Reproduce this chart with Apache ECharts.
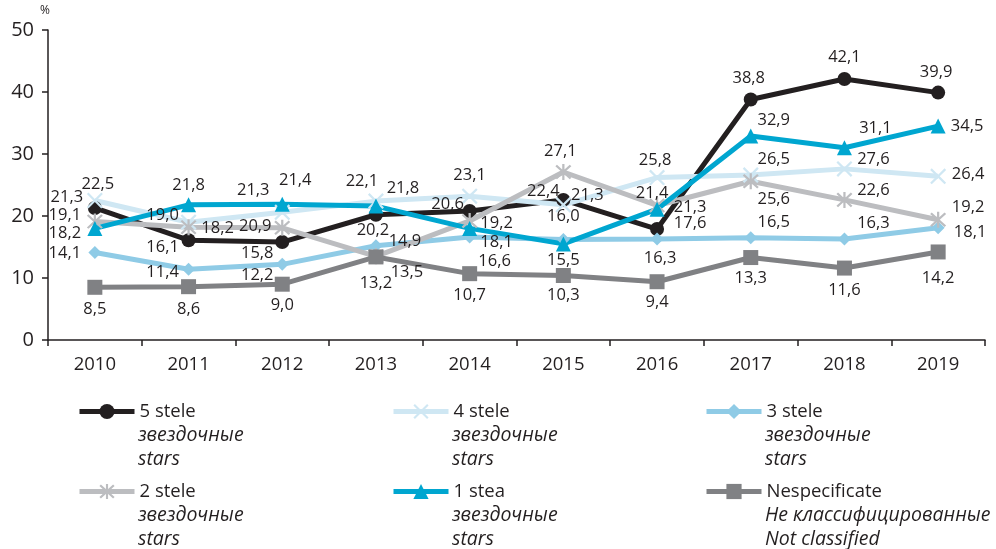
<!DOCTYPE html>
<html lang="ro">
<head>
    <meta charset="UTF-8">
    <title>Stele</title>
    <script src="https://cdn.jsdelivr.net/npm/echarts@6/dist/echarts.min.js"></script>
    <style>
        html, body { margin: 0; padding: 0; background: #fff; }
        #main { width: 996px; height: 549px; }
    </style>
</head>
<body>
<div id="main"></div>
<script>
    // categories
    var years = ['2010', '2011', '2012', '2013', '2014', '2015', '2016', '2017', '2018', '2019'];

    // values as drawn
    var stele5 = [21.3, 16.1, 15.8, 20.2, 20.8, 22.6, 17.9, 38.8, 42.1, 39.9];
    var stele4 = [22.5, 19.0, 20.6, 22.4, 23.2, 21.8, 26.2, 26.6, 27.6, 26.4];
    var stele3 = [14.1, 11.4, 12.2, 15.2, 16.6, 16.2, 16.3, 16.5, 16.3, 18.1];
    var stele2 = [19.1, 18.2, 18.1, 13.5, 19.2, 27.1, 21.7, 25.6, 22.6, 19.4];
    var stea1 = [18.0, 21.8, 21.9, 21.6, 18.0, 15.5, 21.1, 32.9, 31.0, 34.5];
    var nespec = [8.5, 8.6, 9.0, 13.4, 10.7, 10.4, 9.4, 13.3, 11.6, 14.2];

    // printed value labels
    var txt5 = ['21,3', '16,1', '15,8', '20,2', '20,6', '22,4', '17,6', '38,8', '42,1', '39,9'];
    var txt4 = ['22,5', '19,0', '21,3', '22,1', '23,1', '21,3', '25,8', '26,5', '27,6', '26,4'];
    var txt3 = ['14,1', '11,4', '12,2', '14,9', '16,6', '16,0', '16,3', '16,5', '16,3', '18,1'];
    var txt2 = ['19,1', '18,2', '20,9', '13,5', '19,2', '27,1', '21,4', '25,6', '22,6', '19,2'];
    var txt1 = ['18,2', '21,8', '21,4', '21,8', '18,1', '15,5', '21,3', '32,9', '31,1', '34,5'];
    var txtN = ['8,5', '8,6', '9,0', '13,2', '10,7', '10,3', '9,4', '13,3', '11,6', '14,2'];

    // where each label sits, relative to its point
    var off5 = [[-28,-11],[-26,7],[-25,11],[-3,16],[-22,-7],[-20,-9],[33,-6],[-2,-21],[0,-22],[-2,-20]];
    var off4 = [[3,-16],[-26,-7],[-29,-22],[-14,-20],[0,-21],[24,-10],[-2,-17],[23,-16],[29,-10],[30,-2]];
    var off3 = [[-30,1],[-26,3],[-25,11],[29,-4],[25,24],[0,-23],[3,19],[23,-15],[29,-16],[32,5]];
    var off2 = [[-30,-6],[29,1],[-27,-1],[31,16],[27,2],[-3,-21],[-5,-12],[23,18],[29,-10],[30,-12]];
    var off1 = [[-30,5],[0,-20],[13,-24],[27,-18],[27,14],[0,16],[33,-2],[23,-16],[31,-20],[29,0]];
    var offN = [[0,22],[0,23],[0,21],[0,26],[0,22],[0,20],[0,21],[0,21],[0,22],[0,26]];

    var ink = '#231f20';
    var font = '"Open Sans", "Noto Sans", sans-serif';

    var xMark = 'path://M1,0L5,4L9,0L10,1L6,5L10,9L9,10L5,6L1,10L0,9L4,5L0,1Z';
    var starMark = 'path://M1,0L5,4L9,0L10,1L6,5L10,9L9,10L5,6L1,10L0,9L4,5L0,1Z M4.3,-0.5L5.7,-0.5L5.7,10.5L4.3,10.5Z';

    function mkSeries(name, vals, txt, off, color, symbol, size) {
        return {
            name: name,
            type: 'line',
            symbol: symbol,
            symbolSize: size,
            lineStyle: { color: color, width: 5 },
            itemStyle: { color: color },
            data: vals.map(function (v, i) {
                return {
                    value: v,
                    label: { offset: off[i] }
                };
            }),
            label: {
                show: true,
                position: 'inside',
                color: ink,
                fontFamily: font,
                fontSize: 16.5,
                textBorderWidth: 0,
                formatter: function (p) { return txt[p.dataIndex]; }
            },
            z: 2
        };
    }

    var series = [
        mkSeries('5 stele', stele5, txt5, off5, '#231f20', 'circle', 14),
        mkSeries('4 stele', stele4, txt4, off4, '#cfe7f3', xMark, 16),
        mkSeries('3 stele', stele3, txt3, off3, '#8fcbe6', 'diamond', 13),
        mkSeries('2 stele', stele2, txt2, off2, '#bcbdc0', starMark, 16),
        mkSeries('1 stea', stea1, txt1, off1, '#00a6d0', 'triangle', 15),
        mkSeries('Nespecificate', nespec, txtN, offN, '#808184', 'rect', 15)
    ];

    // legend blocks: icon x, row center y
    var legendPos = [
        ['5 stele', 77, 411], ['4 stele', 391, 411], ['3 stele', 704, 411],
        ['2 stele', 77, 491], ['1 stea', 391, 491], ['Nespecificate', 704, 491]
    ];
    var subLines = {
        '5 stele': ['звездочные', 'stars'],
        '4 stele': ['звездочные', 'stars'],
        '3 stele': ['звездочные', 'stars'],
        '2 stele': ['звездочные', 'stars'],
        '1 stea': ['звездочные', 'stars'],
        'Nespecificate': ['Не классифицированные', 'Not classified']
    };

    var legends = legendPos.map(function (l) {
        return {
            data: [l[0]],
            left: l[1],
            top: l[2] - 9,
            padding: 0,
            itemWidth: 55,
            itemHeight: 19,
            selectedMode: false,
            lineStyle: { width: 5 },
            textStyle: { color: ink, fontFamily: font, fontSize: 18.5 }
        };
    });

    var graphics = [{
        type: 'text',
        left: 40,
        top: 5,
        style: { text: '%', fill: ink, font: '12px ' + font }
    }];
    legendPos.forEach(function (l) {
        subLines[l[0]].forEach(function (s, k) {
            graphics.push({
                type: 'text',
                x: l[1] + 61,
                y: l[2] + 1 + 23.5 * (k + 1),
                style: {
                    text: s,
                    fill: ink,
                    font: 'italic 19.5px ' + font,
                    verticalAlign: 'middle'
                }
            });
        });
    });

    var myChart = echarts.init(document.getElementById('main'));
    var option = {
        animation: false,
        backgroundColor: '#fff',
        grid: { left: 48, right: 11, top: 30, bottom: 209, containLabel: false },
        legend: legends,
        graphic: graphics,
        xAxis: {
            type: 'category',
            data: years,
            boundaryGap: true,
            axisLine: { lineStyle: { color: ink, width: 1.5 } },
            axisTick: { show: true, length: 6, lineStyle: { color: ink, width: 1.5 } },
            axisLabel: { color: ink, fontFamily: font, fontSize: 18.5, margin: 15 },
            splitLine: { show: false }
        },
        yAxis: {
            type: 'value',
            min: 0,
            max: 50,
            interval: 10,
            axisLine: { show: true, lineStyle: { color: ink, width: 1.5 } },
            axisTick: { show: true, length: 6, lineStyle: { color: ink, width: 1.5 } },
            axisLabel: { color: ink, fontFamily: font, fontSize: 20, margin: 14 },
            splitLine: { show: false }
        },
        series: series
    };
    myChart.setOption(option);
</script>
</body>
</html>
